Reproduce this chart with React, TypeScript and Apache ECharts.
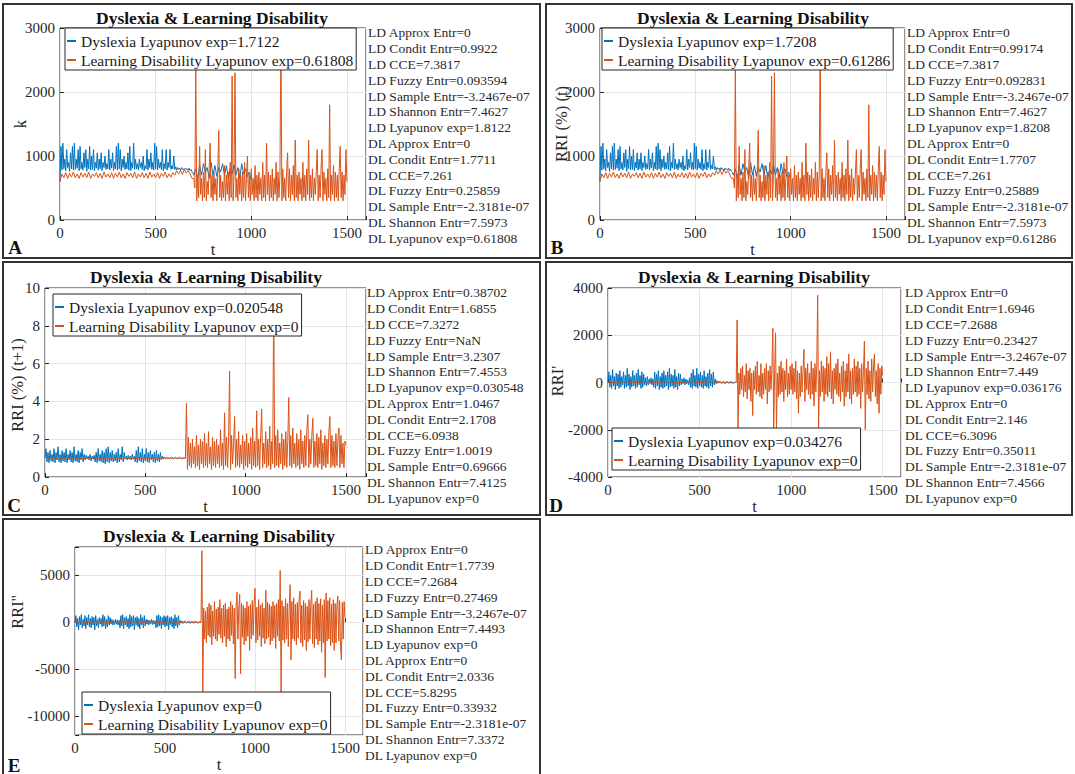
import React, { useEffect, useRef } from "react";
import * as echarts from "echarts";

const FONT = '"Liberation Serif", "Times New Roman", "DejaVu Serif", serif';
const BLUE = "#0072BD";
const ORANGE = "#D95319";
const AXIS = "#262626";

const X_MIN = 0;
const X_MAX = 1600;
const X_INTERVAL = 500;
const TITLE = "Dyslexia & Learning Disability";

// Sampling of the read-off values: calm parts every 10 t, noisy parts every 5 t
const LO_STEP = 10;
const HI_STEP = 5;
const SWITCH_T = 700;

// ---------- Panel A / B (both plots show the same curves) ----------
// Dyslexia, t = 0..700 (step 5)
const A_DL_LO = [
  600, 1150, 780, 1200, 800, 950, 770, 1100, 820, 900,
  760, 1050, 800, 1150, 780, 1200, 790, 950, 810, 1100,
  770, 1150, 800, 900, 780, 1050, 820, 1100, 760, 950,
  800, 1150, 780, 1000, 790, 1100, 770, 900, 810, 1050,
  780, 950, 800, 1050, 770, 900, 820, 1000, 790, 880,
  800, 1100, 780, 950, 810, 1050, 770, 900, 800, 1150,
  780, 1200, 800, 1100, 770, 950, 820, 1000, 790, 900,
  800, 1050, 780, 1150, 770, 900, 810, 1200, 790, 950,
  800, 880, 780, 950, 820, 900, 790, 1000, 770, 850,
  800, 1100, 780, 950, 820, 1050, 790, 900, 780, 1200,
  800, 1150, 780, 950, 810, 900, 790, 1100, 770, 880,
  800, 1100, 780, 900, 820, 1100, 790, 850, 800, 1000,
  790, 830, 780, 820, 790, 810, 780, 820, 790, 800,
  780, 810, 790, 800, 780, 810, 770, 790, 760, 740,
  700,
];
// Dyslexia, t = 710..1000 (step 10)
const A_DL_HI = [
  800, 650, 850, 700, 880, 750, 820, 650, 900, 700,
  850, 680, 820, 750, 880, 700, 850, 650, 800, 720,
  860, 700, 820, 650, 880, 720, 800, 680, 750, 620,
];
// Learning disability, t = 0..690 (step 10)
const A_LD_LO = [
  600, 720, 660, 740, 650, 730, 670, 750, 660, 720,
  650, 740, 670, 730, 660, 750, 650, 720, 680, 740,
  660, 730, 650, 750, 670, 720, 660, 740, 650, 730,
  670, 750, 660, 720, 650, 740, 680, 730, 660, 750,
  650, 720, 670, 740, 660, 730, 650, 750, 670, 720,
  660, 740, 650, 730, 680, 750, 660, 720, 670, 740,
  700, 770, 720, 780, 710, 790, 730, 770, 720, 650,
];
// Learning disability, t = 700..1500 (step 5)
const A_LD_HI = [
  650, 500, 2350, 300, 700, 350, 1150, 400, 650, 300,
  750, 350, 1100, 300, 600, 400, 800, 1200, 350, 700,
  300, 750, 400, 650, 300, 800, 1400, 350, 700, 300,
  600, 350, 850, 300, 700, 400, 750, 300, 900, 350,
  2250, 300, 700, 2300, 350, 650, 300, 800, 400, 700,
  300, 750, 350, 900, 300, 650, 1000, 350, 700, 300,
  800, 400, 650, 300, 850, 350, 700, 300, 750, 400,
  650, 300, 900, 350, 700, 300, 1200, 400, 750, 300,
  700, 350, 800, 300, 650, 400, 900, 300, 750, 350,
  700, 2950, 300, 800, 350, 650, 300, 750, 1050, 350,
  800, 300, 700, 400, 850, 300, 1250, 350, 700, 300,
  750, 400, 650, 300, 900, 350, 700, 300, 800, 400,
  1250, 300, 700, 350, 800, 300, 650, 400, 750, 1100,
  300, 700, 350, 800, 1100, 300, 750, 400, 650, 300,
  800, 350, 1800, 300, 700, 400, 850, 300, 750, 350,
  700, 300, 800, 1150, 350, 750, 300, 700, 400, 1100,
  600,
];

// ---------- Panel C ----------
const C_DL_LO = [
  1.0, 1.5, 0.8, 1.3, 0.75, 1.4, 0.85, 1.2, 0.8, 1.5,
  0.75, 1.3, 0.9, 1.6, 0.8, 1.2, 0.75, 1.4, 0.85, 1.3,
  0.8, 1.5, 0.75, 1.2, 0.9, 1.4, 0.8, 1.3, 0.75, 1.6,
  0.85, 1.2, 0.8, 1.4, 0.75, 1.3, 0.9, 1.5, 0.8, 1.2,
  0.9, 1.15, 0.95, 1.1, 0.9, 1.2, 0.85, 1.1, 0.95, 1.15,
  0.8, 1.3, 0.75, 1.5, 0.85, 1.2, 0.8, 1.4, 0.75, 1.3,
  0.7, 1.5, 0.8, 1.6, 0.75, 1.3, 0.85, 1.4, 0.8, 1.2,
  0.85, 1.3, 0.75, 1.5, 0.8, 1.2, 0.9, 1.6, 0.8, 1.3,
  0.95, 1.1, 0.9, 1.15, 0.95, 1.1, 0.9, 1.2, 0.95, 1.1,
  0.8, 1.4, 0.75, 1.6, 0.85, 1.3, 0.8, 1.5, 0.75, 1.2,
  0.85, 1.5, 0.8, 1.3, 0.75, 1.4, 0.9, 1.2, 0.8, 1.3,
  0.75, 1.4, 0.85, 1.2, 0.8, 1.3, 0.9, 1.1, 0.95, 1.05,
  1.0, 1.02, 0.98, 1.01, 0.99, 1.02, 0.98, 1.01, 0.99, 1.0,
  1.01, 0.99, 1.02, 0.98, 1.0, 1.01, 0.99, 1.0, 1.01, 1.0,
  1.0,
];
const C_LD_LO = [
  1.0, 1.06, 0.95, 1.05, 0.94, 1.06, 0.95, 1.04, 0.94, 1.06,
  0.95, 1.05, 0.94, 1.06, 0.96, 1.05, 0.94, 1.06, 0.95, 1.04,
  0.94, 1.06, 0.95, 1.05, 0.94, 1.04, 0.96, 1.06, 0.95, 1.05,
  0.94, 1.06, 0.95, 1.04, 0.94, 1.06, 0.95, 1.05, 0.96, 1.06,
  0.95, 1.05, 0.94, 1.06, 0.95, 1.04, 0.94, 1.06, 0.95, 1.05,
  0.94, 1.06, 0.96, 1.05, 0.94, 1.06, 0.95, 1.04, 0.94, 1.05,
  0.96, 1.04, 0.95, 1.05, 0.96, 1.04, 0.95, 1.05, 0.96, 1.0,
];
const C_LD_HI = [
  1.0, 3.9, 0.4, 2.1, 0.6, 1.8, 0.5, 2.0, 0.7, 1.6,
  0.5, 2.2, 0.6, 1.7, 0.4, 2.0, 0.7, 1.9, 0.5, 2.3,
  0.6, 1.8, 0.5, 2.4, 0.7, 1.6, 0.4, 2.1, 0.6, 1.9,
  0.5, 2.0, 0.7, 1.7, 0.5, 2.5, 0.6, 1.8, 0.4, 3.4,
  0.6, 2.1, 0.5, 1.9, 5.6, 0.4, 2.2, 0.7, 1.8, 3.2,
  0.5, 2.0, 0.6, 2.4, 0.5, 1.7, 0.7, 2.2, 0.4, 1.9,
  0.6, 2.3, 0.5, 1.8, 0.7, 2.1, 0.4, 2.6, 0.6, 1.9,
  0.5, 3.5, 0.6, 2.0, 0.4, 2.2, 3.6, 0.5, 1.8, 0.7,
  2.4, 0.5, 2.0, 0.6, 2.7, 0.4, 1.9, 0.7, 9.7, 0.5,
  2.2, 0.6, 2.5, 0.5, 1.8, 0.7, 2.3, 0.4, 2.0, 0.6,
  2.4, 0.5, 1.9, 4.2, 0.6, 2.2, 0.5, 2.6, 0.7, 1.8,
  0.5, 2.3, 0.6, 2.0, 0.4, 2.5, 0.7, 1.9, 0.5, 2.2,
  0.6, 2.4, 3.3, 0.5, 2.0, 0.7, 2.2, 3.1, 0.5, 1.9,
  0.6, 2.3, 0.5, 2.1, 0.7, 2.5, 0.4, 1.8, 0.6, 2.2,
  0.5, 2.0, 0.7, 2.4, 3.2, 0.5, 2.2, 0.6, 1.9, 0.5,
  2.3, 0.6, 2.0, 2.6, 0.5, 2.2, 0.7, 1.8, 0.5, 1.9,
  1.7,
];

// ---------- Panel D ----------
const D_DL_LO = [
  0, 450, -200, 300, -250, 550, -150, 250, -300, 400,
  -150, 350, -250, 500, -200, 250, -100, 450, -250, 300,
  -200, 600, -150, 350, -300, 250, -200, 500, -150, 300,
  -250, 400, -200, 550, -100, 300, -250, 450, -200, 350,
  -100, 200, -150, 250, -100, 150, -50, 200, -100, 150,
  -200, 450, -250, 350, -150, 500, -300, 250, -200, 400,
  -250, 500, -200, 300, -150, 450, -300, 600, -200, 350,
  -150, 300, -250, 550, -200, 250, -300, 400, -150, 350,
  -100, 150, -50, 200, -100, 150, -50, 100, -100, 200,
  -200, 400, -250, 550, -150, 300, -200, 600, -250, 350,
  -150, 450, -200, 300, -250, 500, -150, 250, -200, 400,
  -250, 550, -150, 350, -200, 450, -100, 150, -50, 80,
  0, 30, -20, 20, -10, 30, -20, 10, 0, 20,
  -10, 20, 0, 10, -20, 10, 0, -10, 10, 0,
  0,
];
const D_LD_LO = [
  0, 60, -50, 40, -60, 50, -40, 60, -50, 40,
  -60, 50, -40, 60, -50, 40, -60, 50, -40, 60,
  -50, 40, -60, 50, -40, 60, -50, 40, -60, 50,
  -40, 60, -50, 40, -60, 50, -40, 60, -50, 40,
  -60, 50, -40, 60, -50, 40, -60, 50, -40, 60,
  -50, 40, -60, 50, -40, 60, -50, 40, -60, 50,
  -40, 60, -50, 40, -60, 50, -40, 60, -50, 0,
];
const D_LD_HI = [
  0, 2650, -2000, 400, -500, 600, -300, 700, -600, 300,
  -400, 800, -700, 500, -300, 600, -800, 400, -1400, 500,
  -300, 700, -500, 900, -400, 300, -600, 800, -700, 400,
  -500, 600, -300, 800, -900, 500, -400, 700, -300, 600,
  2300, -2000, 500, 2100, -2000, 400, -600, 700, -500, 900,
  -400, 600, -800, 500, -300, 1000, -600, 400, -500, 700,
  -300, 800, -500, 600, -400, 900, -700, 500, -1300, 400,
  -600, 700, -400, 500, 1400, -800, 600, -300, 800, -500,
  400, -700, 900, -500, 600, -1000, 800, -400, 700, 3700,
  -2000, 500, -600, 900, -400, 700, -800, 600, -500, 1100,
  -600, 800, -400, 1300, -700, 500, -900, 600, -300, 800,
  -500, 1000, -600, 400, -800, 700, -400, 900, -1000, 500,
  -600, 800, -400, 1200, -700, 500, -900, 600, -500, 1000,
  -400, 700, -600, 900, -500, 600, -1100, 800, -400, 500,
  1750, -2000, 600, -500, 900, -700, 500, -800, 1000, -400,
  700, 1200, -600, 500, -900, 800, -1300, 600, -500, 700,
  300,
];

// ---------- Panel E ----------
const E_DL_LO = [
  0, 700, -500, 400, -800, 600, -300, 800, -600, 300,
  -400, 700, -700, 500, -300, 800, -500, 400, -600, 600,
  -300, 500, -800, 700, -400, 300, -600, 500, -200, 400,
  -500, 800, -400, 600, -700, 300, -500, 700, -300, 500,
  -200, 300, -300, 200, -250, 300, -200, 250, -300, 200,
  -600, 700, -400, 800, -700, 500, -300, 600, -500, 400,
  -700, 800, -500, 600, -400, 700, -800, 500, -300, 600,
  -500, 400, -700, 800, -300, 500, -600, 700, -400, 300,
  -200, 250, -300, 200, -150, 300, -250, 200, -200, 150,
  -600, 700, -500, 800, -400, 600, -700, 500, -300, 700,
  -500, 600, -400, 700, -800, 500, -300, 600, -500, 400,
  -700, 800, -400, 500, -600, 700, -300, 200, -100, 80,
  0, 40, -30, 20, -40, 30, -20, 10, 0, 20,
  -20, 10, 0, 30, -20, 10, 0, -10, 20, 0,
  0,
];
const E_LD_LO = [
  0, 150, -120, 140, -150, 120, -140, 150, -120, 140,
  -150, 120, -140, 150, -120, 140, -150, 120, -140, 150,
  -120, 140, -150, 120, -140, 150, -120, 140, -150, 120,
  -140, 150, -120, 140, -150, 120, -140, 150, -120, 140,
  -150, 120, -140, 150, -120, 140, -150, 120, -140, 150,
  -120, 140, -150, 120, -140, 150, -120, 140, -150, 120,
  -140, 150, -120, 140, -150, 120, -140, 150, -120, 0,
];
const E_LD_HI = [
  0, 7600, -7500, 1500, -1800, 1200, -2200, 1600, -1400, 2000,
  -1600, 1800, -2400, 1200, -1500, 2200, -1800, 1400, -2000, 1600,
  -1300, 2400, -1700, 1500, -2200, 1800, -1500, 2000, -2600, 1400,
  -1800, 1600, -2000, 2200, -1400, 1800, -2300, 1500, -6000, 1700,
  3200, -1800, 1500, 3000, -5500, 2000, -1600, 1800, -2400, 1500,
  -2000, 2200, -1500, 1700, -3000, 1900, -1800, 2300, -1400, 2000,
  3600, -2200, 1600, -1900, 2400, -1500, 1800, -2600, 2000, -1700,
  1500, -2300, 3400, -1800, 2100, -1600, 1900, -2400, 1700, -2000,
  2200, -1700, 1800, -2800, 2000, -1500, 2400, -2000, 5500, -7500,
  2300, -1900, 1700, -2200, 2500, -1800, 2000, -2600, 1600, 4000,
  -4000, 2200, -1800, 2600, -2000, 1900, -2400, 2100, -1700, 2400,
  3300, -2200, 1800, -2600, 2300, -1900, 2000, -3000, 1700, -2100,
  2400, -1800, 2000, 3400, -2300, 1900, -2700, 2200, -1800, 2600,
  -2400, 2000, -2000, 2500, -3200, 1800, -2200, 2400, -5900, 3100,
  -2000, 2300, -1800, 2600, -2500, 1900, -2200, 2400, -3000, 2000,
  -2200, 1800, 2800, -2000, 2300, -2600, -4000, 2100, -1800, 2200,
  500,
];

const A_LEGEND = ["Dyslexia Lyapunov exp=1.7122", "Learning Disability Lyapunov exp=0.61808"];
const B_LEGEND = ["Dyslexia Lyapunov exp=1.7208", "Learning Disability Lyapunov exp=0.61286"];
const C_LEGEND = ["Dyslexia Lyapunov exp=0.020548", "Learning Disability Lyapunov exp=0"];
const D_LEGEND = ["Dyslexia Lyapunov exp=0.034276", "Learning Disability Lyapunov exp=0"];
const E_LEGEND = ["Dyslexia Lyapunov exp=0", "Learning Disability Lyapunov exp=0"];

const A_STATS = [
  "LD Approx Entr=0", "LD Condit Entr=0.9922", "LD CCE=7.3817", "LD Fuzzy Entr=0.093594",
  "LD Sample Entr=-3.2467e-07", "LD Shannon Entr=7.4627", "LD Lyapunov exp=1.8122",
  "DL Approx Entr=0", "DL Condit Entr=1.7711", "DL CCE=7.261", "DL Fuzzy Entr=0.25859",
  "DL Sample Entr=-2.3181e-07", "DL Shannon Entr=7.5973", "DL Lyapunov exp=0.61808",
];
const B_STATS = [
  "LD Approx Entr=0", "LD Condit Entr=0.99174", "LD CCE=7.3817", "LD Fuzzy Entr=0.092831",
  "LD Sample Entr=-3.2467e-07", "LD Shannon Entr=7.4627", "LD Lyapunov exp=1.8208",
  "DL Approx Entr=0", "DL Condit Entr=1.7707", "DL CCE=7.261", "DL Fuzzy Entr=0.25889",
  "DL Sample Entr=-2.3181e-07", "DL Shannon Entr=7.5973", "DL Lyapunov exp=0.61286",
];
const C_STATS = [
  "LD Approx Entr=0.38702", "LD Condit Entr=1.6855", "LD CCE=7.3272", "LD Fuzzy Entr=NaN",
  "LD Sample Entr=3.2307", "LD Shannon Entr=7.4553", "LD Lyapunov exp=0.030548",
  "DL Approx Entr=1.0467", "DL Condit Entr=2.1708", "DL CCE=6.0938", "DL Fuzzy Entr=1.0019",
  "DL Sample Entr=0.69666", "DL Shannon Entr=7.4125", "DL Lyapunov exp=0",
];
const D_STATS = [
  "LD Approx Entr=0", "LD Condit Entr=1.6946", "LD CCE=7.2688", "LD Fuzzy Entr=0.23427",
  "LD Sample Entr=-3.2467e-07", "LD Shannon Entr=7.449", "LD Lyapunov exp=0.036176",
  "DL Approx Entr=0", "DL Condit Entr=2.146", "DL CCE=6.3096", "DL Fuzzy Entr=0.35011",
  "DL Sample Entr=-2.3181e-07", "DL Shannon Entr=7.4566", "DL Lyapunov exp=0",
];
const E_STATS = [
  "LD Approx Entr=0", "LD Condit Entr=1.7739", "LD CCE=7.2684", "LD Fuzzy Entr=0.27469",
  "LD Sample Entr=-3.2467e-07", "LD Shannon Entr=7.4493", "LD Lyapunov exp=0",
  "DL Approx Entr=0", "DL Condit Entr=2.0336", "DL CCE=5.8295", "DL Fuzzy Entr=0.33932",
  "DL Sample Entr=-2.3181e-07", "DL Shannon Entr=7.3372", "DL Lyapunov exp=0",
];

// segment helper: [values, first t, step]
type Seg = [number[], number, number];
const toPoints = (segs: Seg[]) =>
  segs.flatMap(([vals, t0, step]) => vals.map((v, k) => [t0 + k * step, v]));

const PANELS = [
  {
    letter: "A", legend: A_LEGEND, stats: A_STATS, yName: "k",
    dl: [[A_DL_LO, 0, HI_STEP], [A_DL_HI, SWITCH_T + LO_STEP, LO_STEP]] as Seg[],
    ld: [[A_LD_LO, 0, LO_STEP], [A_LD_HI, SWITCH_T, HI_STEP]] as Seg[],
    yMin: 0, yMax: 3000, yInterval: 1000, yLabelStep: 1000,
    grid: { left: 60, top: 28, width: 306, height: 192 },
    box: [3, 4, 537, 254], title: [212, 18], legendPos: [65, 28],
    statsPos: [368, 25], yLabelPos: [20, 124], letterPos: [15, 247],
  },
  {
    letter: "B", legend: B_LEGEND, stats: B_STATS, yName: "RRI (%) (t)",
    dl: [[A_DL_LO, 0, HI_STEP], [A_DL_HI, SWITCH_T + LO_STEP, LO_STEP]] as Seg[],
    ld: [[A_LD_LO, 0, LO_STEP], [A_LD_HI, SWITCH_T, HI_STEP]] as Seg[],
    yMin: 0, yMax: 3000, yInterval: 1000, yLabelStep: 1000,
    grid: { left: 600, top: 28, width: 305, height: 192 },
    box: [546, 4, 526, 254], title: [753, 18], legendPos: [602, 28],
    statsPos: [907, 25], yLabelPos: [561, 124], letterPos: [557, 247],
  },
  {
    letter: "C", legend: C_LEGEND, stats: C_STATS, yName: "RRI (%) (t+1)",
    dl: [[C_DL_LO, 0, HI_STEP]] as Seg[],
    ld: [[C_LD_LO, 0, LO_STEP], [C_LD_HI, SWITCH_T, HI_STEP]] as Seg[],
    yMin: 0, yMax: 10, yInterval: 2, yLabelStep: 2,
    grid: { left: 45, top: 288, width: 321, height: 189 },
    box: [3, 262, 537, 253], title: [206, 277], legendPos: [53, 294],
    statsPos: [367, 285], yLabelPos: [17, 385], letterPos: [14, 505],
  },
  {
    letter: "D", legend: D_LEGEND, stats: D_STATS, yName: "RRI'",
    dl: [[D_DL_LO, 0, HI_STEP]] as Seg[],
    ld: [[D_LD_LO, 0, LO_STEP], [D_LD_HI, SWITCH_T, HI_STEP]] as Seg[],
    yMin: -4000, yMax: 4000, yInterval: 2000, yLabelStep: 2000,
    grid: { left: 608, top: 288, width: 293, height: 189 },
    box: [546, 262, 526, 253], title: [754, 277], legendPos: [612, 428],
    statsPos: [905, 285], yLabelPos: [557, 381], letterPos: [556, 505],
  },
  {
    letter: "E", legend: E_LEGEND, stats: E_STATS, yName: "RRI''",
    dl: [[E_DL_LO, 0, HI_STEP]] as Seg[],
    ld: [[E_LD_LO, 0, LO_STEP], [E_LD_HI, SWITCH_T, HI_STEP]] as Seg[],
    yMin: -12000, yMax: 8000, yInterval: null, yLabelStep: 5000,
    grid: { left: 75, top: 547, width: 288, height: 188 },
    box: [3, 519, 537, 262], title: [219, 536], legendPos: [82, 692],
    statsPos: [365, 542], yLabelPos: [17, 612], letterPos: [14, 765],
  },
];

function textEl(x: number, y: number, text: string, opts: any = {}) {
  const align = opts.align || "left";
  const vAlign = opts.verticalAlign || "middle";
  return {
    type: "text",
    x,
    y,
    rotation: opts.rotation || 0,
    silent: true,
    z: 100,
    style: {
      text,
      fill: opts.fill || "#1a1a1a",
      fontFamily: FONT,
      fontSize: opts.fontSize || 15,
      fontWeight: opts.fontWeight || "normal",
      lineHeight: opts.lineHeight,
      align,
      verticalAlign: vAlign,
      textAlign: align,
      textVerticalAlign: vAlign,
    },
  };
}

export default function App() {
  const ref = useRef<HTMLDivElement>(null);

  useEffect(() => {
    if (!ref.current) return;
    const chart = echarts.init(ref.current, null, { renderer: "svg" });

    const grids = PANELS.map((p) => ({
      ...p.grid,
      show: true,
      borderColor: AXIS,
      borderWidth: 1,
      backgroundColor: "#fff",
    }));

    const xAxes = PANELS.map((p, i) => ({
      type: "value",
      gridIndex: i,
      min: X_MIN,
      max: X_MAX,
      interval: X_INTERVAL,
      name: "t",
      nameLocation: "middle",
      nameGap: 19,
      nameTextStyle: { fontFamily: FONT, fontSize: 16.5, color: AXIS },
      axisLine: { show: false },
      axisTick: { show: true, inside: true, length: 4, lineStyle: { color: AXIS } },
      axisLabel: {
        color: AXIS,
        fontFamily: FONT,
        fontSize: 15,
        margin: 5,
        formatter: (v: number) => (v % X_INTERVAL === 0 ? String(v) : ""),
      },
      splitLine: { show: true, lineStyle: { color: "#e4e4e4", width: 1 } },
    }));

    const yAxes = PANELS.map((p, i) => {
      const ax: any = {
        type: "value",
        gridIndex: i,
        min: p.yMin,
        max: p.yMax,
        axisLine: { show: false },
        axisTick: { show: true, inside: true, length: 4, lineStyle: { color: AXIS } },
        axisLabel: {
          color: AXIS,
          fontFamily: FONT,
          fontSize: 15,
          margin: 5,
          formatter: (v: number) => (Math.abs(v % p.yLabelStep) < 1e-9 ? String(v) : ""),
        },
        splitLine: { show: true, lineStyle: { color: "#e4e4e4", width: 1 } },
      };
      if (p.yInterval) ax.interval = p.yInterval;
      else ax.splitNumber = 4;
      return ax;
    });

    const series: any[] = [];
    PANELS.forEach((p, i) => {
      series.push({
        type: "line",
        name: p.legend[0],
        xAxisIndex: i,
        yAxisIndex: i,
        data: toPoints(p.dl),
        showSymbol: false,
        symbol: "none",
        silent: true,
        z: 2,
        lineStyle: { width: 1, color: BLUE },
        itemStyle: { color: BLUE },
      });
      series.push({
        type: "line",
        name: p.legend[1],
        xAxisIndex: i,
        yAxisIndex: i,
        data: toPoints(p.ld),
        showSymbol: false,
        symbol: "none",
        silent: true,
        z: 3,
        lineStyle: { width: 1, color: ORANGE },
        itemStyle: { color: ORANGE },
      });
    });

    const legends = PANELS.map((p) => ({
      orient: "vertical",
      left: p.legendPos[0],
      top: p.legendPos[1],
      data: p.legend,
      selectedMode: false,
      backgroundColor: "#fff",
      borderColor: AXIS,
      borderWidth: 1,
      borderRadius: 0,
      padding: [5, 3, 2, 2],
      itemGap: 3,
      itemWidth: 9,
      itemHeight: 2,
      icon: "rect",
      textStyle: { fontFamily: FONT, fontSize: 15.5, color: "#1a1a1a" },
      z: 20,
    }));

    const elements: any[] = [];
    PANELS.forEach((p) => {
      elements.push({
        type: "rect",
        silent: true,
        z: 100,
        shape: { x: p.box[0], y: p.box[1], width: p.box[2], height: p.box[3] },
        style: { fill: "none", stroke: "#333", lineWidth: 2 },
      });
      elements.push(textEl(p.title[0], p.title[1], TITLE, { align: "center", fontSize: 17.5, fontWeight: "bold", fill: "#111" }));
      elements.push(
        textEl(p.statsPos[0], p.statsPos[1], p.stats.join("\n"), {
          fontSize: 13.5,
          lineHeight: 15.8,
          verticalAlign: "top",
          fill: "#2a2a2a",
        })
      );
      elements.push(textEl(p.yLabelPos[0], p.yLabelPos[1], p.yName, { align: "center", rotation: Math.PI / 2, fontSize: 16.5, fill: AXIS }));
      elements.push(textEl(p.letterPos[0], p.letterPos[1], p.letter, { align: "center", fontSize: 19, fontWeight: "bold", fill: "#111" }));
    });

    chart.setOption({
      animation: false,
      backgroundColor: "#fff",
      textStyle: { fontFamily: FONT },
      grid: grids,
      xAxis: xAxes,
      yAxis: yAxes,
      legend: legends,
      series,
      graphic: { elements },
    });

    return () => chart.dispose();
  }, []);

  return (
    <div
      ref={ref}
      style={{ position: "fixed", left: 0, top: 0, width: 1075, height: 774, background: "#fff" }}
    />
  );
}
